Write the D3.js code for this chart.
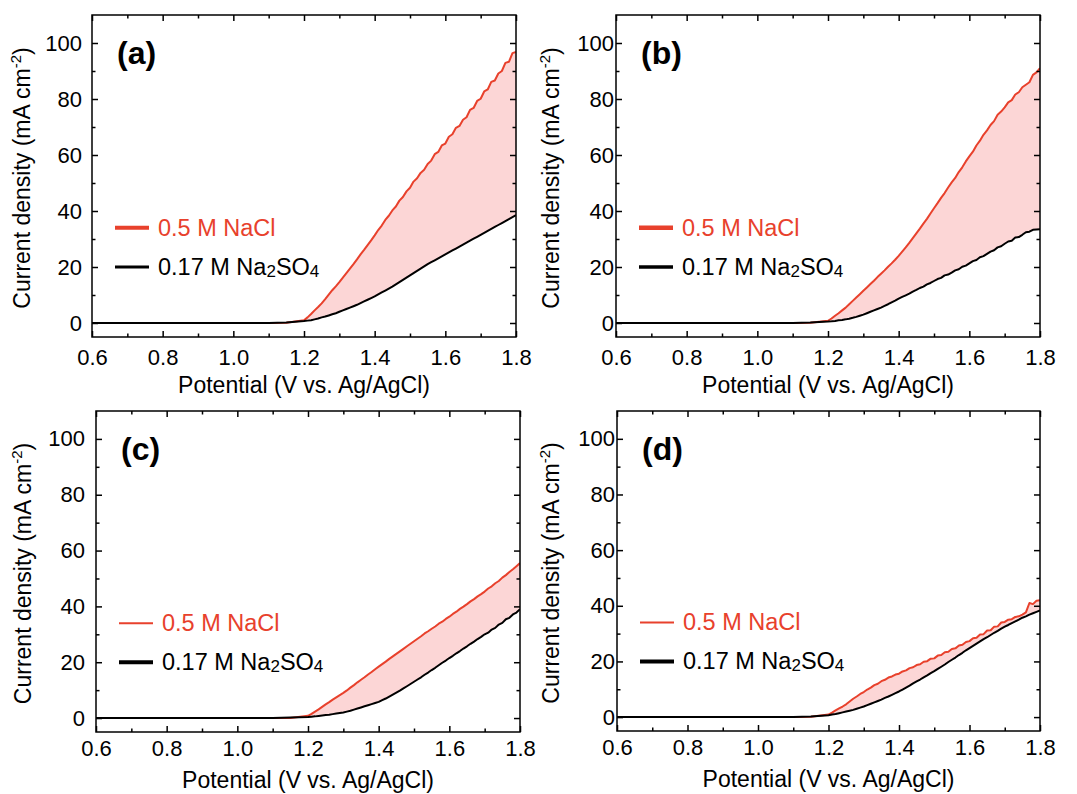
<!DOCTYPE html>
<html>
<head>
<meta charset="utf-8">
<script src="https://cdn.jsdelivr.net/npm/d3@7"></script>
<style>
  html, body { margin: 0; padding: 0; background: #fff; }
  svg { display: block; }
  text { font-family: "Liberation Sans", Arial, sans-serif; }
</style>
</head>
<body>
<svg id="chart" width="1077" height="794"></svg>
<script>
// ---------- data (potential in V vs. Ag/AgCl, current density in mA cm-2) ----------
const potential = [0.6, 1.0, 1.1, 1.15,
  1.20, 1.21, 1.22, 1.23, 1.24, 1.25, 1.26, 1.27, 1.28, 1.29,
  1.30, 1.31, 1.32, 1.33, 1.34, 1.35, 1.36, 1.37, 1.38, 1.39,
  1.40, 1.41, 1.42, 1.43, 1.44, 1.45, 1.46, 1.47, 1.48, 1.49,
  1.50, 1.51, 1.52, 1.53, 1.54, 1.55, 1.56, 1.57, 1.58, 1.59,
  1.60, 1.61, 1.62, 1.63, 1.64, 1.65, 1.66, 1.67, 1.68, 1.69,
  1.70, 1.71, 1.72, 1.73, 1.74, 1.75, 1.76, 1.77, 1.78, 1.79, 1.80];

const naclA = [0, 0, 0, 0.1,
  1.0, 2.0, 3.2, 4.5, 5.7, 7.0, 8.5, 10.1, 11.7, 13.1,
  14.6, 16.2, 17.8, 19.4, 21.0, 22.7, 24.5, 26.1, 27.8, 29.5,
  31.3, 33.2, 34.8, 36.8, 38.3, 40.2, 41.6, 43.7, 45.0, 47.0,
  48.3, 50.5, 51.7, 53.6, 54.7, 56.8, 58.0, 60.3, 61.1, 63.4,
  64.1, 66.5, 67.4, 69.7, 70.4, 72.6, 73.5, 76.1, 76.8, 79.3,
  80.1, 82.7, 83.4, 86.1, 86.6, 89.1, 90.0, 92.9, 93.3, 96.4, 96.8];
const na2so4A = [0, 0, 0, 0.2,
  0.7, 0.85, 1.0, 1.3, 1.6, 2.0, 2.3, 2.7, 3.1, 3.5,
  4.0, 4.5, 5.0, 5.5, 6.0, 6.5, 7.1, 7.7, 8.3, 8.9,
  9.5, 10.2, 10.9, 11.6, 12.3, 13.0, 13.8, 14.6, 15.4, 16.2,
  17.0, 17.8, 18.6, 19.4, 20.2, 21.0, 21.7, 22.4, 23.1, 23.8,
  24.5, 25.2, 25.9, 26.6, 27.3, 28.0, 28.7, 29.4, 30.1, 30.8,
  31.5, 32.2, 32.9, 33.6, 34.3, 35.0, 35.7, 36.4, 37.1, 37.8, 38.5];

const naclB = [0, 0, 0, 0.1,
  0.8, 1.6, 2.6, 3.5, 4.5, 5.5, 6.7, 7.9, 9.1, 10.3,
  11.5, 12.7, 13.9, 15.1, 16.4, 17.6, 18.8, 20.1, 21.3, 22.6,
  24.0, 25.5, 27.0, 28.6, 30.3, 32.0, 33.7, 35.5, 37.2, 39.1,
  41.0, 42.8, 44.7, 46.4, 48.4, 50.2, 51.8, 53.9, 55.6, 57.7,
  59.5, 61.2, 63.4, 65.1, 67.2, 68.8, 70.7, 72.1, 74.4, 75.5,
  77.0, 78.8, 79.6, 81.6, 82.4, 84.2, 85.1, 86.0, 88.6, 89.5, 91.0];
const na2so4B = [0, 0, 0, 0.15,
  0.5, 0.6, 0.75, 0.95, 1.1, 1.3, 1.55, 1.85, 2.2, 2.6,
  3.0, 3.5, 4.0, 4.5, 5.0, 5.5, 6.1, 6.7, 7.4, 8.0,
  8.7, 9.3, 9.9, 10.5, 11.2, 11.8, 12.5, 13.0, 13.8, 14.3,
  15.0, 15.7, 16.1, 17.0, 17.3, 18.0, 18.8, 19.2, 20.1, 20.5,
  21.3, 22.1, 22.5, 23.5, 23.9, 24.7, 25.5, 26.0, 27.0, 27.4,
  28.3, 29.1, 29.4, 30.5, 30.7, 31.5, 32.4, 32.6, 33.3, 33.4, 33.5];

const naclC = [0, 0, 0, 0.05,
  0.8, 1.5, 2.3, 3.1, 4.0, 4.9, 5.7, 6.6, 7.4, 8.2,
  9.0, 9.9, 10.9, 11.8, 12.8, 13.7, 14.6, 15.6, 16.5, 17.5,
  18.4, 19.3, 20.2, 21.2, 22.1, 23.0, 23.9, 24.8, 25.7, 26.6,
  27.5, 28.4, 29.3, 30.3, 31.1, 32.0, 32.8, 33.8, 34.5, 35.5,
  36.3, 37.3, 38.1, 39.1, 39.9, 40.8, 41.8, 42.6, 43.6, 44.4,
  45.3, 46.4, 47.2, 48.3, 49.1, 50.3, 51.2, 52.3, 53.3, 54.4, 55.5];
const na2so4C = [0, 0, 0, 0.2,
  0.4, 0.5, 0.6, 0.75, 0.9, 1.05, 1.2, 1.4, 1.6, 1.8,
  2.0, 2.3, 2.6, 3.0, 3.4, 3.8, 4.2, 4.6, 5.0, 5.4,
  5.8, 6.4, 7.0, 7.7, 8.4, 9.1, 9.8, 10.6, 11.4, 12.2,
  13.0, 13.8, 14.6, 15.5, 16.3, 17.2, 18.0, 18.9, 19.8, 20.6,
  21.5, 22.3, 23.2, 24.0, 24.9, 25.7, 26.6, 27.4, 28.3, 29.1,
  30.0, 30.6, 31.7, 32.3, 33.5, 34.1, 35.4, 35.9, 37.1, 37.8, 39.0];

const naclD = [0, 0, 0, 0.1,
  0.9, 1.6, 2.4, 3.1, 3.8, 4.6, 5.6, 6.6, 7.4, 8.3,
  9.0, 9.9, 10.6, 11.5, 12.0, 12.9, 13.4, 14.2, 14.6, 15.3,
  15.6, 16.4, 16.8, 17.6, 17.9, 18.7, 19.0, 19.9, 20.1, 21.0,
  21.1, 22.1, 22.3, 23.3, 23.5, 24.5, 24.7, 25.7, 26.0, 27.0,
  27.3, 28.3, 28.5, 29.7, 29.8, 31.1, 31.2, 32.5, 32.6, 34.0,
  34.2, 35.0, 35.2, 36.0, 36.2, 36.8, 37.6, 41.0, 40.6, 41.8, 42.0];
const na2so4D = [0, 0, 0, 0.2,
  0.7, 0.9, 1.1, 1.4, 1.7, 2.0, 2.3, 2.6, 3.0, 3.4,
  3.8, 4.3, 4.8, 5.3, 5.8, 6.3, 6.9, 7.4, 8.0, 8.6,
  9.2, 9.9, 10.6, 11.3, 12.1, 12.8, 13.5, 14.3, 15.0, 15.8,
  16.5, 17.3, 18.1, 18.9, 19.8, 20.6, 21.4, 22.3, 23.1, 24.0,
  24.8, 25.6, 26.4, 27.2, 28.0, 28.7, 29.5, 30.3, 31.0, 31.8,
  32.5, 33.1, 33.8, 34.4, 35.0, 35.7, 36.2, 36.8, 37.3, 37.8, 38.3];

const panelLabels = ["(a)", "(b)", "(c)", "(d)"];
const legendNames = ["0.5 M NaCl", "0.17 M Na2SO4"];
const xMajorTicks = [0.6, 0.8, 1.0, 1.2, 1.4, 1.6, 1.8];
const xMinorTicks = [0.7, 0.9, 1.1, 1.3, 1.5, 1.7];
const yMajorTicks = [0, 20, 40, 60, 80, 100];
const yMinorTicks = [10, 30, 50, 70, 90];
const xDomain = [0.6, 1.8];
const yDomain = [-5, 110];

// ---------- layout ----------
const RED = "#e8412c";
const FILL = "#fcd6d6";
const FONT = '"Liberation Sans", Arial, sans-serif';
const panels = [
  { label: panelLabels[0], nacl: naclA, na2so4: na2so4A, left: 92,  top: 15,  right: 516,  bottom: 337,
    yLabGap: 10, yTitleX: 30,  xPad: 12, redLW: 4, blackLW: 3 },
  { label: panelLabels[1], nacl: naclB, na2so4: na2so4B, left: 616, top: 15,  right: 1040, bottom: 337,
    yLabGap: 2,  yTitleX: 559, xPad: 12, redLW: 4.5, blackLW: 3.5 },
  { label: panelLabels[2], nacl: naclC, na2so4: na2so4C, left: 96,  top: 411, right: 520,  bottom: 732,
    yLabGap: 11, yTitleX: 31,  xPad: 8.5, redLW: 2, blackLW: 4 },
  { label: panelLabels[3], nacl: naclD, na2so4: na2so4D, left: 617, top: 411, right: 1040, bottom: 731,
    yLabGap: 2,  yTitleX: 559, xPad: 8.5, redLW: 2, blackLW: 4 }
];

const svg = d3.select("#chart");

panels.forEach((p, i) => {
  const x = d3.scaleLinear().domain(xDomain).range([p.left, p.right]);
  const y = d3.scaleLinear().domain(yDomain).range([p.bottom, p.top]);
  const g = svg.append("g");

  const clipId = "clip" + i;
  g.append("clipPath").attr("id", clipId).append("rect")
    .attr("x", p.left).attr("y", p.top).attr("width", p.right - p.left).attr("height", p.bottom - p.top);

  const rows = potential.map((v, k) => ({ v, a: p.nacl[k], b: p.na2so4[k] }));

  const plot = g.append("g").attr("clip-path", `url(#${clipId})`);
  plot.append("path").datum(rows)
    .attr("d", d3.area().x(d => x(d.v)).y0(d => y(d.b)).y1(d => y(d.a)))
    .attr("fill", FILL).attr("stroke", "none");
  plot.append("path").datum(rows)
    .attr("d", d3.line().x(d => x(d.v)).y(d => y(d.a)))
    .attr("fill", "none").attr("stroke", RED).attr("stroke-width", 2).attr("stroke-linejoin", "round");
  plot.append("path").datum(rows)
    .attr("d", d3.line().x(d => x(d.v)).y(d => y(d.b)))
    .attr("fill", "none").attr("stroke", "#000").attr("stroke-width", 2).attr("stroke-linejoin", "round");

  // axes (ticks inward on all four sides)
  const styleAxis = sel => {
    sel.select(".domain").remove();
    sel.selectAll("line").attr("stroke", "#000").attr("stroke-width", 1.5);
    sel.selectAll("text").attr("font-size", 22).attr("fill", "#000").attr("font-family", FONT);
  };
  g.append("g").attr("transform", `translate(0,${p.bottom})`)
    .call(d3.axisBottom(x).tickValues(xMajorTicks).tickSize(-6).tickPadding(p.xPad).tickFormat(d3.format(".1f")))
    .call(styleAxis);
  g.append("g").attr("transform", `translate(0,${p.bottom})`)
    .call(d3.axisBottom(x).tickValues(xMinorTicks).tickSize(-3.5).tickFormat(""))
    .call(styleAxis);
  g.append("g").attr("transform", `translate(0,${p.top})`)
    .call(d3.axisTop(x).tickValues(xMajorTicks).tickSize(-6).tickFormat(""))
    .call(styleAxis);
  g.append("g").attr("transform", `translate(0,${p.top})`)
    .call(d3.axisTop(x).tickValues(xMinorTicks).tickSize(-3.5).tickFormat(""))
    .call(styleAxis);
  g.append("g").attr("transform", `translate(${p.left},0)`)
    .call(d3.axisLeft(y).tickValues(yMajorTicks).tickSize(-6).tickPadding(p.yLabGap).tickFormat(d3.format("d")))
    .call(styleAxis);
  g.append("g").attr("transform", `translate(${p.left},0)`)
    .call(d3.axisLeft(y).tickValues(yMinorTicks).tickSize(-3.5).tickFormat(""))
    .call(styleAxis);
  g.append("g").attr("transform", `translate(${p.right},0)`)
    .call(d3.axisRight(y).tickValues(yMajorTicks).tickSize(-6).tickFormat(""))
    .call(styleAxis);
  g.append("g").attr("transform", `translate(${p.right},0)`)
    .call(d3.axisRight(y).tickValues(yMinorTicks).tickSize(-3.5).tickFormat(""))
    .call(styleAxis);

  // frame
  g.append("rect").attr("x", p.left).attr("y", p.top)
    .attr("width", p.right - p.left).attr("height", p.bottom - p.top)
    .attr("fill", "none").attr("stroke", "#000").attr("stroke-width", 1.5);

  // axis titles
  g.append("text").attr("x", (p.left + p.right) / 2).attr("y", p.bottom + 56)
    .attr("text-anchor", "middle").attr("font-size", 23).text("Potential (V vs. Ag/AgCl)");
  const yt = g.append("text")
    .attr("transform", `translate(${p.yTitleX},${(p.top + p.bottom) / 2 + 2}) rotate(-90)`)
    .attr("text-anchor", "middle").attr("font-size", 23);
  yt.append("tspan").text("Current density (mA cm");
  yt.append("tspan").attr("font-size", 15).attr("dy", -9).text("-2");
  yt.append("tspan").attr("dy", 9).text(")");

  // panel label
  g.append("text").attr("x", p.left + 25).attr("y", p.top + 49)
    .attr("font-size", 32).attr("font-weight", "bold").text(p.label);

  // legend
  const lx0 = p.left + 23, lx1 = p.left + 57, tx = p.left + 66;
  const ly1 = y(34), ly2 = y(20);
  g.append("line").attr("x1", lx0).attr("x2", lx1).attr("y1", ly1).attr("y2", ly1)
    .attr("stroke", RED).attr("stroke-width", p.redLW);
  g.append("text").attr("x", tx).attr("y", ly1 + 8).attr("font-size", 23.5).attr("fill", RED).text(legendNames[0]);
  g.append("line").attr("x1", lx0).attr("x2", lx1).attr("y1", ly2).attr("y2", ly2)
    .attr("stroke", "#000").attr("stroke-width", p.blackLW);
  const t2 = g.append("text").attr("x", tx).attr("y", ly2 + 8).attr("font-size", 23.5).attr("fill", "#000");
  t2.append("tspan").text("0.17 M Na");
  t2.append("tspan").attr("font-size", 17).attr("dy", 2).text("2");
  t2.append("tspan").attr("dy", -2).text("SO");
  t2.append("tspan").attr("font-size", 17).attr("dy", 2).text("4");
});
</script>
</body>
</html>
